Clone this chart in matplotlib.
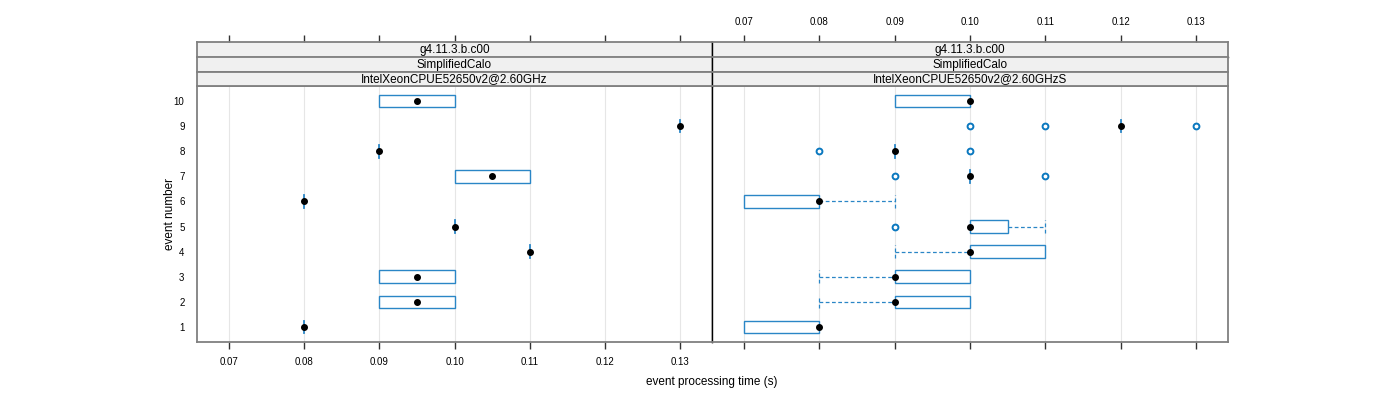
import matplotlib
matplotlib.use("Agg")
import matplotlib.pyplot as plt

plt.rcParams['font.family'] = ['Liberation Sans', 'DejaVu Sans']

events = [1, 2, 3, 4, 5, 6, 7, 8, 9, 10]
ticks = [0.07, 0.08, 0.09, 0.10, 0.11, 0.12, 0.13]
tick_labels = ["0.07", "0.08", "0.09", "0.10", "0.11", "0.12", "0.13"]

strip1 = "g4.11.3.b.c00"
strip2 = "SimplifiedCalo"
strip3_left = "IntelXeonCPUE52650v2@2.60GHz"
strip3_right = "IntelXeonCPUE52650v2@2.60GHzS"

# left panel
L_lo  = [0.08, 0.09, 0.09, 0.11, 0.10, 0.08, 0.10, 0.09, 0.13, 0.09]
L_q1  = [0.08, 0.09, 0.09, 0.11, 0.10, 0.08, 0.10, 0.09, 0.13, 0.09]
L_med = [0.08, 0.095, 0.095, 0.11, 0.10, 0.08, 0.105, 0.09, 0.13, 0.095]
L_q3  = [0.08, 0.10, 0.10, 0.11, 0.10, 0.08, 0.11, 0.09, 0.13, 0.10]
L_hi  = [0.08, 0.10, 0.10, 0.11, 0.10, 0.08, 0.11, 0.09, 0.13, 0.10]
L_out = [[], [], [], [], [], [], [], [], [], []]

# right panel
R_lo  = [0.07, 0.08, 0.08, 0.09, 0.10, 0.07, 0.10, 0.09, 0.12, 0.09]
R_q1  = [0.07, 0.09, 0.09, 0.10, 0.10, 0.07, 0.10, 0.09, 0.12, 0.09]
R_med = [0.08, 0.09, 0.09, 0.10, 0.10, 0.08, 0.10, 0.09, 0.12, 0.10]
R_q3  = [0.08, 0.10, 0.10, 0.11, 0.105, 0.08, 0.10, 0.09, 0.12, 0.10]
R_hi  = [0.08, 0.10, 0.10, 0.11, 0.11, 0.09, 0.10, 0.09, 0.12, 0.10]
R_out = [[], [], [], [], [0.09], [], [0.09, 0.11], [0.08, 0.10], [0.10, 0.11, 0.13], []]

BOX = '#2a86c6'
OUT = '#0a78bf'
FRAME = '#808080'
W, H = 1400, 400
fig = plt.figure(figsize=(14, 4), dpi=100)

def fx(px):
    return px / W

def fy(py):
    return 1 - py / H

xlim = (0.06574, 0.13423)
ylim = (0.4, 10.6)
half = 0.25

def draw_panel(ax, lo, q1, med, q3, hi, out):
    for t in ticks:
        ax.axvline(t, color='#e6e6e6', lw=0.8, zorder=0)
    for i, e in enumerate(events):
        if q3[i] > q1[i]:
            ax.barh(e, q3[i] - q1[i], left=q1[i], height=2 * half, fill=False,
                    edgecolor=BOX, lw=1.0, zorder=2)
        else:
            ax.plot([q1[i], q1[i]], [e - half, e + half], color=BOX, lw=1.3, zorder=2)
        if hi[i] > q3[i]:
            ax.plot([q3[i], hi[i]], [e, e], color=BOX, lw=0.9, ls=(0, (3, 2)), zorder=2)
            ax.plot([hi[i], hi[i]], [e - half, e + half], color=BOX, lw=0.9, ls=(0, (3, 2)), zorder=2)
        if lo[i] < q1[i]:
            ax.plot([lo[i], q1[i]], [e, e], color=BOX, lw=0.9, ls=(0, (3, 2)), zorder=2)
            ax.plot([lo[i], lo[i]], [e - half, e + half], color=BOX, lw=0.9, ls=(0, (3, 2)), zorder=2)
        if out[i]:
            ax.plot(out[i], [e] * len(out[i]), 'o', ms=4.2, mfc='white', mec=OUT, mew=1.4,
                    ls='none', zorder=3)
        ax.plot([med[i]], [e], 'o', ms=4.0, color='black', zorder=4)
    ax.set_xlim(*xlim)
    ax.set_ylim(*ylim)
    for s in ax.spines.values():
        s.set_color(FRAME)
        s.set_linewidth(1.3)
    ax.set_xticks(ticks)

# panel axes
top, bot = 86, 342
axL = fig.add_axes([fx(197), fy(bot), fx(712 - 197), (bot - top) / H])
axR = fig.add_axes([fx(712), fy(bot), fx(1228 - 712), (bot - top) / H])
draw_panel(axL, L_lo, L_q1, L_med, L_q3, L_hi, L_out)
draw_panel(axR, R_lo, R_q1, R_med, R_q3, R_hi, R_out)

axL.set_yticks(events)
axL.set_yticklabels([str(e) for e in events])
axL.tick_params(axis='y', length=0, pad=9, labelsize=7, colors='black')
axL.tick_params(axis='x', direction='out', length=5, width=1, color='#333333',
                labelsize=7, pad=6)
axL.set_xticklabels(tick_labels)
axL.spines['right'].set_color('black')
axL.spines['right'].set_linewidth(1.0)

axR.set_yticks([])
axR.tick_params(axis='x', direction='out', length=5, width=1, color='#333333',
                labelbottom=False)
axR.spines['left'].set_color('black')
axR.spines['left'].set_linewidth(1.0)

# strips
strip_rows = [(42, 57.0), (57.0, 71.5), (71.5, 86)]
for (x0, x1, txt3, labeltop) in [(197, 712, strip3_left, False), (712, 1228, strip3_right, True)]:
    texts = [strip1, strip2, txt3]
    for k, (y0, y1) in enumerate(strip_rows):
        sa = fig.add_axes([fx(x0), fy(y1), fx(x1 - x0), (y1 - y0) / H])
        sa.set_facecolor('#f0f0f0')
        sa.set_xlim(*xlim)
        sa.set_ylim(0, 1)
        sa.set_yticks([])
        sa.text(0.5, 0.47, texts[k], transform=sa.transAxes, ha='center', va='center',
                fontsize=8.5, color='black')
        for s in sa.spines.values():
            s.set_color(FRAME)
            s.set_linewidth(1.3)
        if k == 0:
            sa.spines['bottom'].set_color('black')
            sa.spines['bottom'].set_linewidth(1.0)
        if x0 == 197:
            sa.spines['right'].set_color('black')
            sa.spines['right'].set_linewidth(1.0)
        else:
            sa.spines['left'].set_color('black')
            sa.spines['left'].set_linewidth(1.0)
        if k == 0:
            sa.set_xticks(ticks)
            sa.xaxis.tick_top()
            sa.tick_params(axis='x', direction='out', length=5, width=1, color='#333333',
                           labeltop=labeltop, labelbottom=False, labelsize=7, pad=6)
            if labeltop:
                sa.set_xticklabels(tick_labels)
        else:
            sa.set_xticks([])

fig.text(fx(712), fy(382), "event processing time (s)", ha='center', va='center', fontsize=8.5)
fig.text(fx(170), fy(214), "event number", ha='center', va='center', rotation=90, fontsize=8.5)

fig.savefig("out.png", dpi=100)
